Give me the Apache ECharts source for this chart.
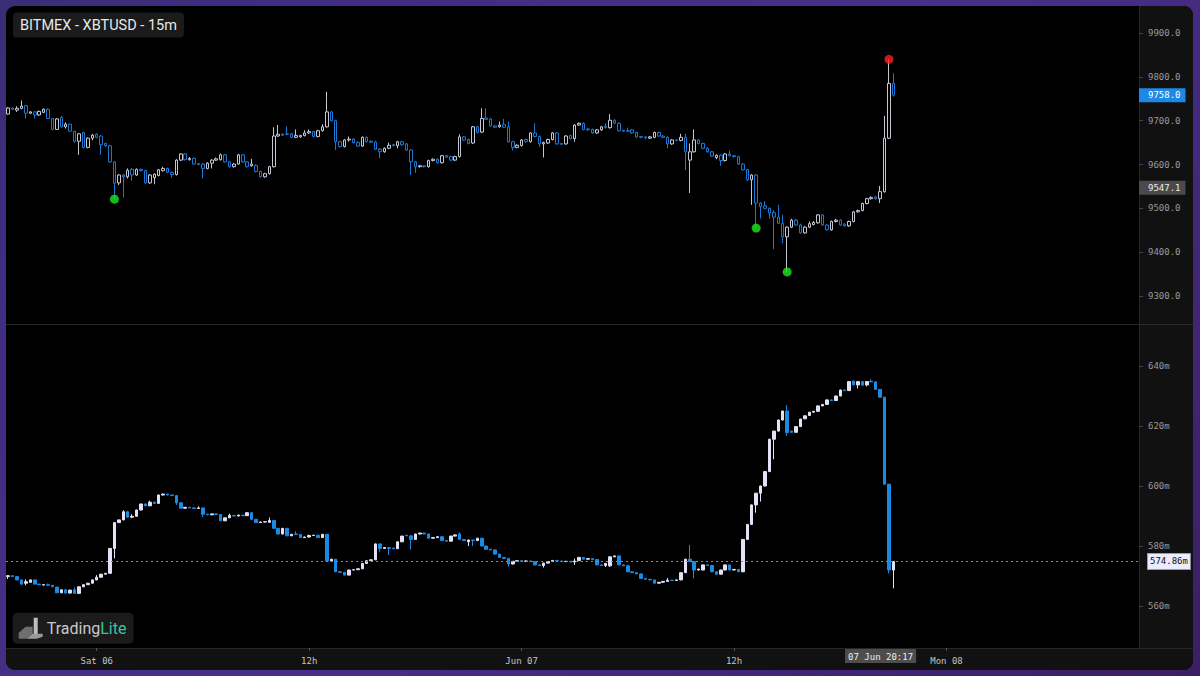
<!DOCTYPE html>
<html><head><meta charset="utf-8">
<script src="https://cdn.jsdelivr.net/npm/echarts/dist/echarts.min.js"></script>
<style>
html,body{margin:0;padding:0;width:1200px;height:676px;overflow:hidden;background:linear-gradient(135deg,#3b2c78 0%,#48308a 50%,#3a1f66 100%);}
#panel{position:absolute;left:6px;top:6px;width:1187px;height:664px;background:#000;border-radius:9px;overflow:hidden;}
.raxis{position:absolute;left:1133px;top:0;width:54px;height:642px;background:#111;border-left:1px solid #262626;box-sizing:border-box;}
.baxis{position:absolute;left:0;top:642px;width:1187px;height:22px;background:#111;border-top:1px solid #262626;box-sizing:border-box;}
.sep{position:absolute;left:0;top:318px;width:1187px;height:1px;background:#2a2a2a;}
#chart{position:absolute;left:0;top:0;width:1187px;height:664px;}
</style></head>
<body>
<div id="panel"><div class="raxis"></div><div class="baxis"></div><div class="sep"></div><div id="chart"></div></div>
<script>
// ---- data (15m candles, index 0 = 05 Jun 19:00) ----
const priceOpen=[9715,9729,9724,9728,9734,9717,9720,9713,9719,9726,9705,9680,9707,9686,9692,9676,9653,9673,9639,9660,9669,9665,9648,9643,9606,9558,9576,9572,9589,9576,9589,9586,9558,9570,9575,9586,9591,9582,9577,9610,9624,9611,9614,9602,9601,9591,9603,9610,9611,9622,9606,9595,9601,9622,9606,9597,9598,9584,9572,9579,9595,9665,9669,9670,9670,9662,9663,9666,9672,9675,9664,9677,9686,9720,9700,9652,9641,9656,9658,9650,9642,9662,9653,9651,9635,9629,9637,9645,9643,9652,9647,9633,9606,9595,9597,9595,9609,9612,9604,9620,9618,9610,9618,9663,9657,9649,9686,9674,9706,9704,9688,9686,9691,9686,9652,9639,9643,9657,9652,9672,9664,9647,9649,9657,9672,9648,9647,9666,9659,9690,9694,9681,9680,9672,9679,9687,9684,9701,9694,9678,9677,9679,9673,9664,9663,9660,9662,9673,9665,9662,9647,9656,9655,9662,9610,9629,9656,9648,9637,9629,9616,9621,9609,9624,9620,9618,9601,9588,9565,9576,9512,9506,9500,9490,9480,9466,9435,9457,9473,9462,9444,9457,9463,9467,9485,9462,9451,9470,9473,9464,9460,9470,9492,9495,9511,9522,9526,9522,9538,9660,9785];
const priceClose=[9729,9726,9728,9733,9717,9720,9713,9721,9726,9705,9680,9704,9686,9692,9676,9653,9670,9639,9660,9667,9662,9645,9643,9606,9557,9576,9572,9587,9576,9589,9586,9558,9576,9578,9588,9591,9582,9577,9610,9624,9611,9614,9601,9600,9591,9603,9610,9613,9622,9606,9595,9601,9622,9606,9595,9601,9584,9572,9579,9595,9665,9669,9667,9669,9662,9666,9666,9672,9675,9664,9677,9686,9720,9700,9652,9641,9656,9658,9650,9642,9662,9652,9651,9635,9629,9637,9644,9643,9652,9645,9633,9606,9595,9597,9595,9609,9612,9604,9620,9617,9610,9618,9663,9656,9648,9686,9673,9705,9703,9688,9685,9690,9685,9652,9639,9644,9656,9652,9672,9664,9647,9650,9657,9672,9647,9646,9665,9659,9690,9694,9680,9679,9672,9679,9686,9684,9701,9694,9677,9676,9676,9672,9663,9662,9661,9663,9673,9665,9662,9647,9656,9655,9662,9629,9629,9656,9648,9637,9629,9619,9621,9609,9624,9620,9618,9601,9588,9565,9576,9512,9504,9500,9489,9480,9466,9435,9457,9473,9462,9444,9457,9465,9468,9485,9462,9451,9470,9473,9462,9460,9470,9492,9495,9511,9522,9525,9522,9538,9660,9785,9758];
const priceHigh=[9731,9730,9733,9746,9736,9722,9721,9723,9728,9728,9706,9706,9711,9696,9693,9677,9672,9675,9662,9670,9671,9667,9650,9645,9608,9578,9578,9591,9592,9591,9591,9588,9578,9580,9590,9595,9593,9584,9612,9626,9626,9617,9616,9603,9603,9605,9612,9616,9625,9624,9608,9603,9624,9624,9608,9613,9600,9586,9581,9597,9685,9690,9671,9687,9672,9680,9668,9678,9680,9677,9679,9692,9766,9722,9702,9654,9658,9664,9660,9653,9664,9664,9655,9654,9637,9639,9650,9647,9654,9654,9649,9635,9608,9599,9598,9611,9614,9614,9622,9622,9620,9620,9669,9665,9659,9688,9688,9728,9728,9706,9690,9698,9704,9698,9654,9646,9658,9659,9674,9694,9666,9652,9659,9674,9674,9649,9667,9668,9692,9696,9696,9683,9682,9681,9688,9694,9715,9703,9696,9679,9684,9681,9675,9665,9664,9665,9675,9675,9667,9664,9658,9657,9670,9670,9648,9680,9658,9650,9639,9631,9623,9623,9626,9632,9621,9620,9603,9590,9578,9578,9514,9516,9502,9496,9508,9485,9459,9476,9476,9465,9459,9470,9471,9487,9487,9464,9472,9476,9475,9466,9472,9494,9497,9513,9524,9527,9528,9551,9711,9840,9808];
const priceLow=[9714,9724,9720,9726,9705,9715,9705,9711,9717,9704,9678,9679,9684,9682,9675,9650,9622,9637,9637,9655,9660,9622,9640,9604,9521,9553,9525,9568,9563,9574,9584,9556,9556,9555,9573,9584,9580,9570,9575,9608,9609,9609,9600,9599,9568,9589,9591,9608,9609,9604,9593,9593,9600,9604,9593,9595,9582,9570,9570,9577,9593,9663,9665,9667,9660,9660,9661,9664,9670,9662,9662,9675,9684,9698,9633,9639,9639,9652,9648,9640,9640,9650,9649,9633,9614,9627,9635,9641,9637,9643,9631,9576,9581,9593,9593,9593,9607,9602,9602,9615,9608,9608,9616,9654,9646,9647,9671,9672,9703,9686,9683,9684,9683,9650,9632,9637,9641,9650,9650,9662,9640,9616,9647,9655,9645,9645,9645,9657,9652,9688,9678,9677,9670,9670,9677,9682,9682,9692,9675,9675,9675,9670,9661,9660,9658,9658,9660,9663,9660,9637,9645,9653,9653,9587,9535,9627,9646,9635,9627,9617,9612,9597,9607,9618,9616,9599,9586,9562,9508,9455,9477,9498,9477,9407,9464,9420,9355,9455,9460,9442,9442,9455,9461,9465,9460,9449,9449,9468,9460,9458,9458,9468,9490,9493,9509,9520,9520,9512,9536,9658,9755];
// lower pane series (values in millions)
const oiOpen=[569.8,570.1,569.8,568.7,567.6,567.9,568.7,567.3,567.0,567.1,566.9,566.3,564.4,565.4,564.3,565.4,564.2,566.4,567.1,567.6,568.7,569.6,570.6,570.9,579.2,587.8,588.7,591.4,589.6,589.9,592.0,594.0,593.4,594.6,594.2,597.0,597.3,597.0,596.8,594.4,592.6,592.9,592.7,592.5,592.7,590.6,590.4,590.7,590.5,588.4,589.4,590.2,590.0,590.3,590.1,591.1,588.9,587.8,588.0,587.9,588.5,585.9,584.0,585.9,583.4,584.0,583.8,582.8,583.0,583.5,583.6,582.8,583.9,575.0,575.6,571.4,571.2,570.3,572.0,572.1,572.4,574.2,575.1,575.4,580.7,579.2,579.5,579.3,579.1,581.4,583.6,583.4,582.2,584.0,584.3,584.0,582.6,582.8,583.1,581.8,581.6,583.3,584.0,582.2,581.4,582.0,581.8,582.6,580.0,578.9,578.7,577.3,576.2,575.9,574.0,574.9,575.1,574.9,575.0,574.8,573.7,573.5,574.3,574.8,575.2,575.0,574.8,574.9,574.7,575.1,576.2,575.6,575.8,575.5,573.7,573.5,573.4,576.4,576.7,573.7,573.4,571.4,571.1,570.7,569.2,568.9,568.7,567.6,567.9,568.2,568.6,568.5,568.7,571.1,575.6,574.8,572.0,572.0,573.7,573.5,571.4,570.6,572.0,573.7,572.0,572.2,571.4,582.2,587.2,593.7,597.6,600.0,604.8,615.6,618.3,622.0,625.0,618.3,617.9,619.8,622.4,623.5,624.6,624.9,626.7,627.2,628.7,628.5,630.0,632.0,631.8,635.0,633.7,634.8,633.7,634.9,634.7,632.2,629.6,600.6,572.0];
const oiClose=[570.1,569.8,568.7,567.3,568.1,568.7,567.3,567.1,567.1,566.9,566.4,564.4,565.4,564.3,565.3,564.2,566.4,567.1,567.6,568.7,569.6,570.6,570.9,579.2,587.8,588.7,591.4,589.6,589.9,592.0,594.0,593.4,594.6,594.2,597.0,597.3,597.0,596.8,594.4,592.6,592.9,592.7,592.5,592.7,590.6,590.4,590.7,590.5,588.4,589.4,590.2,590.0,590.3,590.1,591.1,588.9,587.8,588.0,588.1,588.5,585.9,584.0,585.9,583.4,583.9,583.8,582.8,583.0,583.5,583.6,582.8,583.9,575.0,575.6,571.4,571.2,570.3,572.0,572.1,572.4,574.2,575.1,575.4,580.7,579.2,579.5,579.2,579.1,581.4,583.3,583.4,582.2,584.0,584.3,584.0,582.6,582.8,583.1,581.8,581.6,583.3,583.7,582.2,581.8,582.0,581.8,582.6,580.0,578.9,578.7,577.3,576.2,575.9,574.0,574.9,575.1,574.9,575.0,574.8,573.7,573.5,574.3,574.8,575.2,575.0,574.8,574.9,574.7,575.0,576.2,575.6,575.8,575.5,573.7,573.5,574.2,576.4,576.7,573.7,573.4,571.4,571.1,570.7,569.2,568.9,568.7,567.6,567.9,568.2,568.6,568.5,568.7,571.1,575.6,574.8,572.0,572.3,573.7,573.5,571.4,570.6,572.0,573.7,572.0,572.2,571.4,582.2,587.2,593.7,597.6,600.0,604.8,615.6,618.3,622.0,625.0,617.8,617.9,619.8,622.3,623.4,624.6,624.9,626.7,627.2,628.7,628.5,630.0,632.0,631.8,634.8,633.7,634.8,633.6,634.8,634.7,632.2,629.6,600.6,572.0,574.86];
const oiLow=[569.0,569.7,568.6,567.0,566.9,567.8,567.2,567.0,566.9,566.8,566.3,564.3,564.3,564.2,564.2,564.1,564.1,566.3,567.0,567.5,568.6,569.5,570.5,570.8,575.9,587.7,588.6,589.5,589.3,589.8,591.9,593.3,593.3,594.1,594.1,596.9,596.9,596.7,593.7,592.5,592.5,592.6,592.4,592.4,589.6,590.3,590.3,590.4,588.3,588.3,589.3,589.9,589.9,590.0,590.0,588.8,587.7,587.7,587.9,587.8,585.8,583.9,583.9,583.3,583.3,583.7,582.7,582.7,582.9,583.4,582.7,582.7,574.9,574.9,571.3,571.1,570.2,570.2,571.9,572.0,572.3,574.1,575.0,575.3,578.1,579.1,577.0,579.0,579.0,581.3,583.3,578.9,582.1,583.9,583.9,582.5,582.5,582.7,581.7,581.5,581.5,583.2,582.1,581.7,580.0,580.0,581.7,579.9,578.8,578.6,577.2,576.1,575.8,573.1,573.9,574.8,574.8,574.8,574.7,573.6,573.4,572.8,574.2,574.7,574.9,574.7,574.7,574.6,573.7,575.0,575.5,575.5,575.4,573.6,573.4,573.0,573.0,576.3,573.6,573.3,571.3,571.0,570.6,569.1,568.8,568.6,567.5,567.5,567.8,568.1,568.4,568.4,568.6,571.0,574.7,569.2,571.9,571.9,573.4,571.3,570.5,570.5,571.9,571.9,571.9,571.3,571.3,582.1,587.1,591.1,594.8,599.9,604.7,608.9,618.2,621.9,616.7,617.7,617.8,619.7,622.3,623.4,624.5,624.8,626.6,627.1,628.4,628.4,629.9,631.7,631.7,633.6,632.5,633.5,633.2,634.6,632.1,629.5,600.5,570.9,565.9];
const oiHigh=[570.3,570.2,569.9,568.8,568.9,568.8,568.8,567.4,567.2,567.5,567.0,566.4,565.5,565.5,565.4,566.2,566.5,567.2,567.7,568.8,570.3,570.7,571.0,579.3,587.9,588.8,591.9,591.5,590.6,592.1,594.1,594.1,595.1,594.8,597.1,597.5,597.4,597.1,596.9,594.5,593.0,593.0,592.8,593.2,592.8,590.7,590.8,590.8,590.6,589.5,590.8,590.3,590.4,590.4,591.2,591.2,589.0,588.1,588.2,589.5,588.6,586.0,586.0,586.0,584.0,584.9,583.9,583.1,583.8,583.7,583.7,584.0,584.0,575.7,575.7,571.5,571.3,572.1,572.2,572.5,574.3,575.2,575.5,580.8,580.8,579.6,579.6,579.4,581.5,583.4,583.7,583.5,584.1,584.4,584.4,584.1,582.9,583.2,583.2,581.9,583.4,583.8,584.5,582.3,582.1,582.1,582.7,582.7,580.1,579.0,578.8,577.4,576.3,576.0,575.0,575.2,575.2,575.1,575.1,574.9,573.8,574.4,574.9,575.3,575.3,575.1,575.0,575.0,575.8,576.3,576.3,575.9,575.9,575.6,573.8,574.3,576.5,576.8,576.8,573.8,573.5,571.5,571.2,570.8,569.3,569.0,568.8,568.0,568.3,569.3,568.7,568.8,571.2,575.7,580.3,574.9,572.4,573.8,573.8,573.6,571.5,572.1,573.8,573.8,572.3,572.3,582.3,587.3,593.8,597.7,600.1,604.9,615.7,618.4,622.1,625.1,627.0,618.4,619.9,622.4,623.5,624.7,625.0,626.8,627.3,628.8,628.8,630.1,632.1,632.1,634.9,635.1,634.9,634.9,634.9,635.6,634.9,632.3,629.7,600.7,575.0];
const lowMarkIdx=[24,169,176];      // green dots at swing lows
const highMarkIdx=[199];            // red dot at swing high
const crosshairPrice=9547.1;
const crosshairIdx=197, crosshairText='07 Jun 20:17';
const xTickIdx=[20,68,116,164,212];
const xTickLabels=['Sat 06','12h','Jun 07','12h','Mon 08'];
const SLOTS=256;
const categories=[]; for(let i=0;i<SLOTS;i++) categories.push(i);

const priceData=priceOpen.map((o,i)=>[o,priceClose[i],priceLow[i],priceHigh[i]]);
const oiData=oiOpen.map((o,i)=>[o,oiClose[i],oiLow[i],oiHigh[i]]);
const lastPrice=priceClose[priceClose.length-1];
const lastOi=oiClose[oiClose.length-1];

const mono='DejaVu Sans Mono';
const chart=echarts.init(document.getElementById('chart'),null,{renderer:'svg'});
const yLab={fontFamily:mono,fontSize:9,color:'#9a9a9a',margin:9};
const opt={
  animation:false,
  title:{text:'BITMEX - XBTUSD - 15m',left:7,top:7,backgroundColor:'#1b1b1b',borderRadius:4,padding:[5,7,5,7],
    textStyle:{color:'#e8e8e8',fontSize:14.5,fontWeight:'normal',fontFamily:'Roboto',lineHeight:14}},
  grid:[
    {left:0,right:54,top:27,height:263,outerBoundsMode:'none'},
    {left:0,right:54,top:360,height:240,outerBoundsMode:'none'}
  ],
  xAxis:[
    {type:'category',gridIndex:0,data:categories,boundaryGap:true,show:false},
    {type:'category',gridIndex:1,data:categories,boundaryGap:true,offset:42,
      axisLine:{show:false},
      axisTick:{show:true,alignWithLabel:true,length:3,lineStyle:{color:'#555'},interval:(i)=>xTickIdx.includes(i)},
      axisLabel:{interval:(i)=>xTickIdx.includes(i),formatter:(v,i)=>{const k=xTickIdx.indexOf(Number(v));return k>=0?xTickLabels[k]:'';},
        fontFamily:mono,fontSize:9,color:'#c4c4c4',margin:8},
      splitLine:{show:false}}
  ],
  yAxis:[
    {type:'value',gridIndex:0,position:'right',min:9300,max:9900,interval:100,scale:true,
      axisLine:{show:false},axisTick:{show:true,length:4,lineStyle:{color:'#444'}},splitLine:{show:false},
      axisLabel:Object.assign({formatter:v=>v.toFixed(1)},yLab)},
    {type:'value',gridIndex:1,position:'right',min:560,max:640,interval:20,scale:true,
      axisLine:{show:false},axisTick:{show:true,length:4,lineStyle:{color:'#444'}},splitLine:{show:false},
      axisLabel:Object.assign({formatter:v=>v+'m'},yLab)}
  ],
  series:[
    {type:'candlestick',xAxisIndex:0,yAxisIndex:0,data:priceData,barWidth:3,
      itemStyle:{color:'#000',color0:'#000',borderColor:'#c6c6d2',borderColor0:'#1a78d4',borderWidth:1},
      markLine:{silent:true,symbol:['none','none'],animation:false,
        lineStyle:{color:'rgba(0,0,0,0)',width:0},
        data:[
          {yAxis:lastPrice,label:{show:true,position:'end',distance:0,formatter:()=>lastPrice.toFixed(1),
            backgroundColor:'#1e88e5',color:'#fff',fontFamily:mono,fontSize:9,padding:[3,5,2,9]}},
          {yAxis:crosshairPrice,label:{show:true,position:'end',distance:0,formatter:()=>crosshairPrice.toFixed(1),
            backgroundColor:'#4a4a4a',color:'#eee',fontFamily:mono,fontSize:9,padding:[3,5,2,9]}}
        ]}},
    {type:'scatter',xAxisIndex:0,yAxisIndex:0,symbolSize:9,z:5,silent:true,
      data:lowMarkIdx.map(i=>({value:[i,priceLow[i]],itemStyle:{color:'#1ee81e'}}))
        .concat(highMarkIdx.map(i=>({value:[i,priceHigh[i]],itemStyle:{color:'#ff2020'}})))},
    {type:'candlestick',xAxisIndex:1,yAxisIndex:1,data:oiData,barWidth:3,
      itemStyle:{color:'#e2e2f6',color0:'#1b8ae2',borderColor:'#e2e2f6',borderColor0:'#1b8ae2',borderWidth:1},
      markLine:{silent:true,symbol:['none','none'],animation:false,
        lineStyle:{color:'#8a8a8a',type:[2,3],width:1},
        data:[{yAxis:lastOi,label:{show:true,position:'end',distance:9,formatter:()=>lastOi.toFixed(2)+'m',
          backgroundColor:'#ececff',color:'#111',borderColor:'#9a9aaa',borderWidth:1,fontFamily:mono,fontSize:9,padding:[3,2,3,2]}}]}}
  ]
};
chart.setOption(opt);
// crosshair time label on the x axis + logo
const cx=chart.convertToPixel({xAxisIndex:1},crosshairIdx);
chart.setOption({graphic:[
  {type:'text',left:cx-35,top:643,z:20,style:{text:crosshairText,fill:'#eee',font:'9px "DejaVu Sans Mono"',backgroundColor:'#4d4d4d',padding:[3,3,2,3]}},
  {type:'group',left:6.7,top:606.7,z:20,children:[
    {type:'rect',shape:{x:0,y:0,width:121,height:31,r:5},style:{fill:'#1b1b1b'}},
    {type:'polygon',shape:{points:[[6,20],[13,14],[20,14],[20,21],[14,26],[6,26]]},style:{fill:'#6f6f6f'}},
    {type:'rect',shape:{x:21,y:5,width:4,height:18},style:{fill:'#bdbdbd'}},
    {type:'polygon',shape:{points:[[14,26],[20,21],[30,21],[30,24],[24,26]]},style:{fill:'#9a9a9a'}},
    {type:'text',x:34,y:16,style:{text:'{a|Trading}{b|Lite}',verticalAlign:'middle',
      rich:{a:{fill:'#c9c9c9',fontSize:16,fontFamily:'Roboto'},b:{fill:'#35c9a0',fontSize:16,fontFamily:'Roboto'}}}}
  ]}
]});
</script>
</body></html>
